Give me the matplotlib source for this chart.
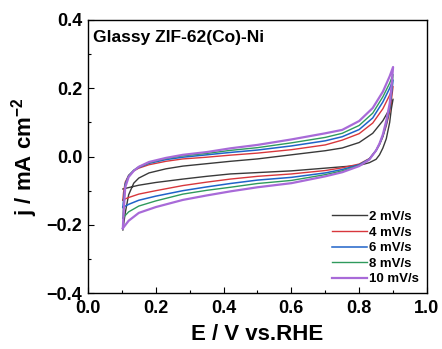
import matplotlib
matplotlib.use("Agg")
from matplotlib import pyplot as plt
from matplotlib.ticker import MultipleLocator

# potential grids (V vs. RHE): anodic sweep and cathodic sweep
e_up = [0.103, 0.105, 0.11, 0.12, 0.135, 0.15, 0.18, 0.23, 0.28, 0.35,
        0.42, 0.5, 0.6, 0.7, 0.75, 0.8, 0.84, 0.87, 0.89, 0.9]
e_down = [0.9, 0.895, 0.89, 0.88, 0.87, 0.86, 0.85, 0.83, 0.8, 0.75,
          0.7, 0.6, 0.5, 0.42, 0.35, 0.28, 0.2, 0.15, 0.12, 0.103]

labels = ["2 mV/s", "4 mV/s", "6 mV/s", "8 mV/s", "10 mV/s"]

# current density (mA cm-2), anodic branch
j_up_2 = [-0.215, -0.2, -0.165, -0.112, -0.078, -0.063, -0.048, -0.036, -0.028, -0.021,
          -0.014, -0.007, 0.005, 0.017, 0.025, 0.041, 0.068, 0.105, 0.14, 0.168]
j_up_4 = [-0.127, -0.105, -0.075, -0.055, -0.042, -0.034, -0.024, -0.014, -0.007, -0.002,
          0.004, 0.01, 0.02, 0.034, 0.048, 0.067, 0.098, 0.14, 0.18, 0.205]
j_up_6 = [-0.149, -0.125, -0.08, -0.056, -0.041, -0.032, -0.02, -0.009, -0.002, 0.005,
          0.012, 0.019, 0.031, 0.046, 0.058, 0.079, 0.113, 0.16, 0.2, 0.224]
j_up_8 = [-0.18, -0.145, -0.085, -0.057, -0.04, -0.03, -0.018, -0.006, 0.002, 0.009,
          0.018, 0.026, 0.04, 0.056, 0.068, 0.091, 0.127, 0.175, 0.215, 0.24]
j_up_10 = [-0.21, -0.165, -0.09, -0.06, -0.042, -0.03, -0.016, -0.004, 0.005, 0.013,
           0.024, 0.034, 0.05, 0.068, 0.078, 0.104, 0.142, 0.19, 0.235, 0.262]

# current density (mA cm-2), cathodic branch
j_down_2 = [0.168, 0.14, 0.1, 0.052, 0.025, 0.005, -0.008, -0.018, -0.026, -0.03,
            -0.034, -0.042, -0.047, -0.051, -0.058, -0.066, -0.076, -0.084, -0.091, -0.095]
j_down_4 = [0.205, 0.165, 0.13, 0.09, 0.058, 0.035, 0.018, -0.006, -0.022, -0.033,
            -0.041, -0.051, -0.058, -0.066, -0.075, -0.085, -0.1, -0.11, -0.12, -0.127]
j_down_6 = [0.224, 0.18, 0.14, 0.095, 0.06, 0.036, 0.018, -0.007, -0.024, -0.038,
            -0.048, -0.061, -0.069, -0.079, -0.089, -0.1, -0.116, -0.128, -0.14, -0.149]
j_down_8 = [0.24, 0.19, 0.148, 0.1, 0.062, 0.037, 0.018, -0.008, -0.026, -0.042,
            -0.053, -0.07, -0.079, -0.09, -0.099, -0.11, -0.13, -0.145, -0.162, -0.18]
j_down_10 = [0.262, 0.2, 0.155, 0.105, 0.065, 0.038, 0.018, -0.009, -0.028, -0.046,
             -0.058, -0.078, -0.09, -0.102, -0.114, -0.127, -0.148, -0.165, -0.188, -0.21]

j_up = [j_up_2, j_up_4, j_up_6, j_up_8, j_up_10]
j_down = [j_down_2, j_down_4, j_down_6, j_down_8, j_down_10]
colors = ["#3a3a3a", "#d8373c", "#1f63c9", "#2f9a5c", "#a86ad8"]
widths = [1.0, 1.0, 1.1, 1.0, 1.6]

plt.rcParams["font.family"] = ["Liberation Sans", "DejaVu Sans"]
plt.rcParams["font.weight"] = "bold"
plt.rcParams["mathtext.fontset"] = "custom"
plt.rcParams["mathtext.rm"] = "Liberation Sans:bold"
plt.rcParams["mathtext.bf"] = "Liberation Sans:bold"
plt.rcParams["mathtext.default"] = "bf"

fig = plt.figure(figsize=(4.42, 3.49), dpi=100)
ax = fig.add_axes([0.199, 0.160, 0.767, 0.783])

for up, down, c, lw, lab in zip(j_up, j_down, colors, widths, labels):
    ax.plot(e_up + e_down, up + down, "-", color=c, lw=lw, label=lab)

ax.set_xlim(0.0, 1.0)
ax.set_ylim(-0.4, 0.4)
ax.xaxis.set_major_locator(MultipleLocator(0.2))
ax.xaxis.set_minor_locator(MultipleLocator(0.1))
ax.yaxis.set_major_locator(MultipleLocator(0.2))
ax.yaxis.set_minor_locator(MultipleLocator(0.1))
ax.tick_params(axis="both", which="both", direction="in", labelsize=13)
ax.tick_params(axis="x", which="major", pad=5)
ax.tick_params(axis="y", which="major", pad=4)
ax.tick_params(axis="both", which="major", length=4, width=0.8)
ax.tick_params(axis="both", which="minor", length=2.5, width=0.8)
for lbl in ax.get_xticklabels() + ax.get_yticklabels():
    lbl.set_fontweight("bold")
for sp in ax.spines.values():
    sp.set_linewidth(1.0)

ax.set_xlabel("E / V vs.RHE", fontsize=16, fontweight="bold", labelpad=5)
ax.set_ylabel("j / mA cm$^{-2}$", fontsize=16, fontweight="bold", labelpad=5)

ax.text(0.015, 0.935, "Glassy ZIF-62(Co)-Ni", transform=ax.transAxes,
        fontsize=12.5, fontweight="bold", va="center", ha="left")

leg = ax.legend(loc="lower right", frameon=False, fontsize=9.5, handlelength=2.6,
                handletextpad=0.2, labelspacing=0.25, borderaxespad=0.2)
for t in leg.get_texts():
    t.set_fontweight("bold")

fig.savefig("out.png", dpi=100)
